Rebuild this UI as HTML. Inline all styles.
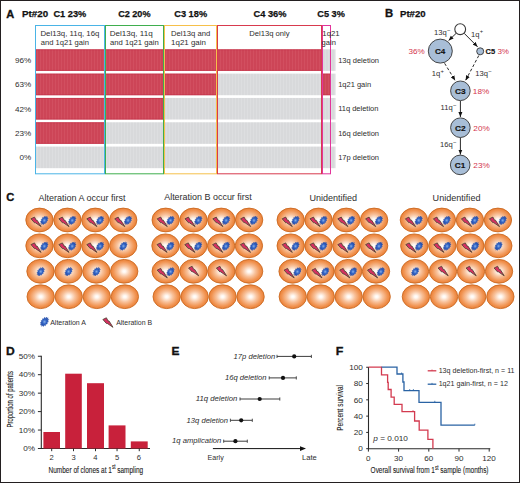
<!DOCTYPE html><html><head><meta charset="utf-8"><style>
html,body{margin:0;padding:0;background:#fff;}
svg{display:block;font-family:"Liberation Sans", sans-serif;}
</style></head><body>
<svg width="520" height="483" viewBox="0 0 520 483">
<defs>
<pattern id="pr" width="3" height="10" patternUnits="userSpaceOnUse"><rect width="3" height="10" fill="#cd4557"/><rect x="1" width="1" height="10" fill="#d24f60"/></pattern>
<pattern id="pg" width="3" height="10" patternUnits="userSpaceOnUse"><rect width="3" height="10" fill="#d8d9db"/><rect x="1" width="1" height="10" fill="#dddee0"/></pattern>
<radialGradient id="cell" cx="0.5" cy="0.5" r="0.5"><stop offset="0" stop-color="#ffffff"/><stop offset="0.12" stop-color="#fff7f0"/><stop offset="0.45" stop-color="#f8c29c"/><stop offset="0.8" stop-color="#f19452"/><stop offset="1" stop-color="#ea7f36"/></radialGradient>
<radialGradient id="blob" cx="0.5" cy="0.5" r="0.5"><stop offset="0" stop-color="#86aee8"/><stop offset="0.45" stop-color="#3466c6"/><stop offset="1" stop-color="#1d47a6"/></radialGradient>
<g id="bolt"><path d="M-5.1,-3.1 L-1.6,-4.8 L0.1,-1.6 L1.0,-1.7 L5.0,4.7 L-0.9,0.7 L-1.6,0.9 Z" fill="#d63062" stroke="#4e4232" stroke-width="0.85" stroke-linejoin="round"/></g>
<g id="blobg"><polygon points="2.52,1.97 1.24,2.04 0.83,3.54 -0.08,2.91 -1.05,4.30 -1.39,3.10 -2.69,4.07 -2.38,2.59 -3.71,2.91 -2.82,1.48 -3.89,1.09 -2.62,0.04 -3.17,-0.99 -1.82,-1.42 -1.73,-2.84 -0.60,-2.55 0.11,-4.04 0.76,-3.09 1.93,-4.31 1.94,-2.93 3.30,-3.60 2.67,-2.10 3.92,-2.06 2.80,-0.78 3.63,-0.05 2.28,0.71" fill="url(#blob)" stroke="#1f4aa8" stroke-width="0.4" stroke-linejoin="round"/></g>
<marker id="ah" viewBox="0 0 10 10" refX="10" refY="5" markerWidth="5.6" markerHeight="5.6" orient="auto"><path d="M0,1 L10,5 L0,9 Z" fill="#111"/></marker>
</defs>
<rect x="0.5" y="0.5" width="519" height="482" fill="#fff" stroke="#231f20" stroke-width="1"/>
<text x="6.22" y="17.5" fill="#111" style="font-size:10.6px;font-weight:bold;stroke:#111;stroke-width:0.3;" textLength="7.98" lengthAdjust="spacingAndGlyphs">A</text>
<text x="22.04" y="17.1" fill="#111" style="font-size:9.8px;font-weight:bold;stroke:#111;stroke-width:0.25;" textLength="26.06" lengthAdjust="spacingAndGlyphs">Pt#20</text>
<text x="53.43" y="17.1" fill="#111" style="font-size:9.8px;font-weight:bold;stroke:#111;stroke-width:0.25;" textLength="32.82" lengthAdjust="spacingAndGlyphs">C1 23%</text>
<text x="118.14" y="17.1" fill="#111" style="font-size:9.8px;font-weight:bold;stroke:#111;stroke-width:0.25;" textLength="32.42" lengthAdjust="spacingAndGlyphs">C2 20%</text>
<text x="174.23" y="17.1" fill="#111" style="font-size:9.8px;font-weight:bold;stroke:#111;stroke-width:0.25;" textLength="32.93" lengthAdjust="spacingAndGlyphs">C3 18%</text>
<text x="253.53" y="17.1" fill="#111" style="font-size:9.8px;font-weight:bold;stroke:#111;stroke-width:0.25;" textLength="32.93" lengthAdjust="spacingAndGlyphs">C4 36%</text>
<text x="317.33" y="17.1" fill="#111" style="font-size:9.8px;font-weight:bold;stroke:#111;stroke-width:0.25;" textLength="27.51" lengthAdjust="spacingAndGlyphs">C5 3%</text>
<rect x="35" y="49.30" width="70" height="21.6" fill="url(#pr)"/>
<rect x="35" y="49.30" width="70" height="1" fill="#c5304a" opacity="0.6"/>
<rect x="35" y="69.90" width="70" height="1" fill="#c5304a" opacity="0.6"/>
<rect x="105" y="49.30" width="59" height="21.6" fill="url(#pr)"/>
<rect x="105" y="49.30" width="59" height="1" fill="#c5304a" opacity="0.6"/>
<rect x="105" y="69.90" width="59" height="1" fill="#c5304a" opacity="0.6"/>
<rect x="164" y="49.30" width="53" height="21.6" fill="url(#pr)"/>
<rect x="164" y="49.30" width="53" height="1" fill="#c5304a" opacity="0.6"/>
<rect x="164" y="69.90" width="53" height="1" fill="#c5304a" opacity="0.6"/>
<rect x="217" y="49.30" width="105" height="21.6" fill="url(#pr)"/>
<rect x="217" y="49.30" width="105" height="1" fill="#c5304a" opacity="0.6"/>
<rect x="217" y="69.90" width="105" height="1" fill="#c5304a" opacity="0.6"/>
<rect x="322" y="49.30" width="9" height="21.6" fill="url(#pg)"/>
<rect x="331" y="49.30" width="4.5" height="21.6" fill="url(#pg)"/>
<rect x="35" y="73.62" width="70" height="21.6" fill="url(#pr)"/>
<rect x="35" y="73.62" width="70" height="1" fill="#c5304a" opacity="0.6"/>
<rect x="35" y="94.22" width="70" height="1" fill="#c5304a" opacity="0.6"/>
<rect x="105" y="73.62" width="59" height="21.6" fill="url(#pr)"/>
<rect x="105" y="73.62" width="59" height="1" fill="#c5304a" opacity="0.6"/>
<rect x="105" y="94.22" width="59" height="1" fill="#c5304a" opacity="0.6"/>
<rect x="164" y="73.62" width="53" height="21.6" fill="url(#pr)"/>
<rect x="164" y="73.62" width="53" height="1" fill="#c5304a" opacity="0.6"/>
<rect x="164" y="94.22" width="53" height="1" fill="#c5304a" opacity="0.6"/>
<rect x="217" y="73.62" width="105" height="21.6" fill="url(#pg)"/>
<rect x="322" y="73.62" width="9" height="21.6" fill="url(#pr)"/>
<rect x="322" y="73.62" width="9" height="1" fill="#c5304a" opacity="0.6"/>
<rect x="322" y="94.22" width="9" height="1" fill="#c5304a" opacity="0.6"/>
<rect x="331" y="73.62" width="4.5" height="21.6" fill="url(#pg)"/>
<rect x="35" y="97.94" width="70" height="21.6" fill="url(#pr)"/>
<rect x="35" y="97.94" width="70" height="1" fill="#c5304a" opacity="0.6"/>
<rect x="35" y="118.54" width="70" height="1" fill="#c5304a" opacity="0.6"/>
<rect x="105" y="97.94" width="59" height="21.6" fill="url(#pr)"/>
<rect x="105" y="97.94" width="59" height="1" fill="#c5304a" opacity="0.6"/>
<rect x="105" y="118.54" width="59" height="1" fill="#c5304a" opacity="0.6"/>
<rect x="164" y="97.94" width="53" height="21.6" fill="url(#pg)"/>
<rect x="217" y="97.94" width="105" height="21.6" fill="url(#pg)"/>
<rect x="322" y="97.94" width="9" height="21.6" fill="url(#pg)"/>
<rect x="331" y="97.94" width="4.5" height="21.6" fill="url(#pg)"/>
<rect x="35" y="122.26" width="70" height="21.6" fill="url(#pr)"/>
<rect x="35" y="122.26" width="70" height="1" fill="#c5304a" opacity="0.6"/>
<rect x="35" y="142.86" width="70" height="1" fill="#c5304a" opacity="0.6"/>
<rect x="105" y="122.26" width="59" height="21.6" fill="url(#pg)"/>
<rect x="164" y="122.26" width="53" height="21.6" fill="url(#pg)"/>
<rect x="217" y="122.26" width="105" height="21.6" fill="url(#pg)"/>
<rect x="322" y="122.26" width="9" height="21.6" fill="url(#pg)"/>
<rect x="331" y="122.26" width="4.5" height="21.6" fill="url(#pg)"/>
<rect x="35" y="146.58" width="70" height="21.6" fill="url(#pg)"/>
<rect x="105" y="146.58" width="59" height="21.6" fill="url(#pg)"/>
<rect x="164" y="146.58" width="53" height="21.6" fill="url(#pg)"/>
<rect x="217" y="146.58" width="105" height="21.6" fill="url(#pg)"/>
<rect x="322" y="146.58" width="9" height="21.6" fill="url(#pg)"/>
<rect x="331" y="146.58" width="4.5" height="21.6" fill="url(#pg)"/>
<rect x="35.5" y="25.5" width="69.0" height="148.3" fill="none" stroke="#4ab4e6" stroke-width="1"/>
<rect x="105.5" y="25.5" width="58.0" height="148.3" fill="none" stroke="#3fae4e" stroke-width="1"/>
<rect x="164.5" y="25.5" width="52.0" height="148.3" fill="none" stroke="#f6c04a" stroke-width="1"/>
<rect x="217.5" y="25.5" width="104.0" height="148.3" fill="none" stroke="#d83a4e" stroke-width="1"/>
<rect x="322.5" y="25.5" width="8.0" height="148.3" fill="none" stroke="#e2349a" stroke-width="1"/>
<text x="40.46" y="35.8" fill="#2e2e2e" style="font-size:7.7px;" textLength="58.94" lengthAdjust="spacingAndGlyphs">Del13q, 11q, 16q</text>
<text x="40.78" y="44.5" fill="#2e2e2e" style="font-size:7.7px;" textLength="48.23" lengthAdjust="spacingAndGlyphs">and 1q21 gain</text>
<text x="109.73" y="35.8" fill="#2e2e2e" style="font-size:7.7px;" textLength="42.98" lengthAdjust="spacingAndGlyphs">Del13q, 11q</text>
<text x="110.07" y="44.5" fill="#2e2e2e" style="font-size:7.7px;" textLength="48.64" lengthAdjust="spacingAndGlyphs">and 1q21 gain</text>
<text x="171.07" y="35.8" fill="#2e2e2e" style="font-size:7.7px;" textLength="39.21" lengthAdjust="spacingAndGlyphs">Del13q and</text>
<text x="171.11" y="44.5" fill="#2e2e2e" style="font-size:7.7px;" textLength="34.82" lengthAdjust="spacingAndGlyphs">1q21 gain</text>
<text x="249.17" y="35.8" fill="#2e2e2e" style="font-size:7.7px;" textLength="40.44" lengthAdjust="spacingAndGlyphs">Del13q only</text>
<text x="322.32" y="35.6" fill="#2e2e2e" style="font-size:7.7px;" textLength="17.27" lengthAdjust="spacingAndGlyphs">1q21</text>
<text x="321.58" y="44.6" fill="#2e2e2e" style="font-size:7.7px;" textLength="14.32" lengthAdjust="spacingAndGlyphs">gain</text>
<text x="14.98" y="63.0" fill="#2e2e2e" style="font-size:7.6px;" textLength="16.21" lengthAdjust="spacingAndGlyphs">96%</text>
<text x="338.14" y="62.6" fill="#2e2e2e" style="font-size:7.5px;" textLength="40.87" lengthAdjust="spacingAndGlyphs">13q deletion</text>
<text x="14.98" y="87.3" fill="#2e2e2e" style="font-size:7.6px;" textLength="16.21" lengthAdjust="spacingAndGlyphs">63%</text>
<text x="338.14" y="86.9" fill="#2e2e2e" style="font-size:7.5px;" textLength="32.95" lengthAdjust="spacingAndGlyphs">1q21 gain</text>
<text x="14.98" y="111.6" fill="#2e2e2e" style="font-size:7.6px;" textLength="16.21" lengthAdjust="spacingAndGlyphs">42%</text>
<text x="338.14" y="111.2" fill="#2e2e2e" style="font-size:7.5px;" textLength="40.31" lengthAdjust="spacingAndGlyphs">11q deletion</text>
<text x="14.98" y="135.9" fill="#2e2e2e" style="font-size:7.6px;" textLength="16.21" lengthAdjust="spacingAndGlyphs">23%</text>
<text x="338.14" y="135.5" fill="#2e2e2e" style="font-size:7.5px;" textLength="40.87" lengthAdjust="spacingAndGlyphs">16q deletion</text>
<text x="19.50" y="160.2" fill="#2e2e2e" style="font-size:7.6px;" textLength="11.71" lengthAdjust="spacingAndGlyphs">0%</text>
<text x="338.14" y="159.8" fill="#2e2e2e" style="font-size:7.5px;" textLength="40.87" lengthAdjust="spacingAndGlyphs">17p deletion</text>
<text x="385.04" y="17.3" fill="#111" style="font-size:10.4px;font-weight:bold;stroke:#111;stroke-width:0.3;" textLength="8.17" lengthAdjust="spacingAndGlyphs">B</text>
<text x="400.05" y="17.1" fill="#111" style="font-size:9.8px;font-weight:bold;stroke:#111;stroke-width:0.25;" textLength="25.54" lengthAdjust="spacingAndGlyphs">Pt#20</text>
<line x1="456.2" y1="33.3" x2="448.6" y2="40.6" stroke="#111" stroke-width="0.9" marker-end="url(#ah)"/>
<line x1="464.2" y1="33.3" x2="477.6" y2="46.8" stroke="#111" stroke-width="0.9" marker-end="url(#ah)"/>
<line x1="444.6" y1="63.3" x2="455.2" y2="80.6" stroke="#111" stroke-width="0.9" stroke-dasharray="3,2" marker-end="url(#ah)"/>
<line x1="478.8" y1="55.5" x2="465.6" y2="80.4" stroke="#111" stroke-width="0.9" stroke-dasharray="3,2" marker-end="url(#ah)"/>
<line x1="460.4" y1="100.8" x2="460.4" y2="117" stroke="#111" stroke-width="0.9" marker-end="url(#ah)"/>
<line x1="460.4" y1="137.6" x2="460.4" y2="154.6" stroke="#111" stroke-width="0.9" marker-end="url(#ah)"/>
<circle cx="460.2" cy="29.2" r="5.4" fill="#fff" stroke="#3a3a3a" stroke-width="1.1"/>
<circle cx="440.3" cy="51.1" r="12.0" fill="#a8bed7" stroke="#333" stroke-width="0.9"/>
<text x="434.98" y="53.9" fill="#111" style="font-size:7.9px;font-weight:bold;stroke:#111;stroke-width:0.15;" textLength="10.37" lengthAdjust="spacingAndGlyphs">C4</text>
<circle cx="480.2" cy="51.3" r="3.5" fill="#a8bed7" stroke="#333" stroke-width="0.9"/>
<circle cx="460.4" cy="90.8" r="9.8" fill="#a8bed7" stroke="#333" stroke-width="0.9"/>
<text x="455.07" y="93.6" fill="#111" style="font-size:7.9px;font-weight:bold;stroke:#111;stroke-width:0.15;" textLength="10.63" lengthAdjust="spacingAndGlyphs">C3</text>
<circle cx="460.4" cy="127.7" r="9.8" fill="#a8bed7" stroke="#333" stroke-width="0.9"/>
<text x="455.07" y="130.5" fill="#111" style="font-size:7.9px;font-weight:bold;stroke:#111;stroke-width:0.15;" textLength="10.68" lengthAdjust="spacingAndGlyphs">C2</text>
<circle cx="460.2" cy="164.9" r="9.8" fill="#a8bed7" stroke="#333" stroke-width="0.9"/>
<text x="454.87" y="167.7" fill="#111" style="font-size:7.9px;font-weight:bold;stroke:#111;stroke-width:0.15;" textLength="10.56" lengthAdjust="spacingAndGlyphs">C1</text>
<text x="408.50" y="53.5" fill="#d3344c" style="font-size:7.6px;" textLength="16.20" lengthAdjust="spacingAndGlyphs">36%</text>
<text x="485.50" y="53.5" fill="#111" style="font-size:7.8px;font-weight:bold;stroke:#111;stroke-width:0.15;" textLength="9.61" lengthAdjust="spacingAndGlyphs">C5</text>
<text x="497.40" y="53.5" fill="#d3344c" style="font-size:7.6px;" textLength="11.61" lengthAdjust="spacingAndGlyphs">3%</text>
<text x="472.88" y="93.5" fill="#d3344c" style="font-size:7.6px;" textLength="16.41" lengthAdjust="spacingAndGlyphs">18%</text>
<text x="473.39" y="130.6" fill="#d3344c" style="font-size:7.6px;" textLength="16.41" lengthAdjust="spacingAndGlyphs">20%</text>
<text x="473.39" y="167.9" fill="#d3344c" style="font-size:7.6px;" textLength="16.41" lengthAdjust="spacingAndGlyphs">23%</text>
<text x="434.0" y="35.0" fill="#2e2e2e" style="font-size:7.6px;">13q<tspan dx="0.3" dy="-3.1" style="font-size:5.8px;">−</tspan></text>
<text x="471.0" y="36.5" fill="#2e2e2e" style="font-size:7.6px;">1q<tspan dx="0.3" dy="-3.1" style="font-size:5.8px;">+</tspan></text>
<text x="431.8" y="75.8" fill="#2e2e2e" style="font-size:7.6px;">1q<tspan dx="0.3" dy="-3.1" style="font-size:5.8px;">+</tspan></text>
<text x="475.2" y="75.8" fill="#2e2e2e" style="font-size:7.6px;">13q<tspan dx="0.3" dy="-3.1" style="font-size:5.8px;">−</tspan></text>
<text x="440.6" y="109.8" fill="#2e2e2e" style="font-size:7.6px;">11q<tspan dx="0.3" dy="-3.1" style="font-size:5.8px;">−</tspan></text>
<text x="440.0" y="146.7" fill="#2e2e2e" style="font-size:7.6px;">16q<tspan dx="0.3" dy="-3.1" style="font-size:5.8px;">−</tspan></text>
<text x="6.25" y="201.1" fill="#111" style="font-size:10.6px;font-weight:bold;stroke:#111;stroke-width:0.3;" textLength="8.05" lengthAdjust="spacingAndGlyphs">C</text>
<text x="38.58" y="200.5" fill="#2e2e2e" style="font-size:8.8px;" textLength="86.90" lengthAdjust="spacingAndGlyphs">Alteration A occur first</text>
<text x="164.18" y="200.4" fill="#2e2e2e" style="font-size:8.8px;" textLength="87.60" lengthAdjust="spacingAndGlyphs">Alteration B occur first</text>
<text x="309.40" y="200.5" fill="#2e2e2e" style="font-size:8.8px;" textLength="47.68" lengthAdjust="spacingAndGlyphs">Unidentified</text>
<text x="432.60" y="200.5" fill="#2e2e2e" style="font-size:8.8px;" textLength="47.88" lengthAdjust="spacingAndGlyphs">Unidentified</text>
<ellipse cx="39.50" cy="220.0" rx="13.7" ry="11.9" fill="url(#cell)" stroke="#c9671e" stroke-width="0.85"/>
<use href="#bolt" x="36.10" y="221.90"/>
<use href="#blobg" x="44.30" y="220.40"/>
<ellipse cx="67.40" cy="220.0" rx="13.7" ry="11.9" fill="url(#cell)" stroke="#c9671e" stroke-width="0.85"/>
<use href="#bolt" x="64.00" y="221.90"/>
<use href="#blobg" x="72.20" y="220.40"/>
<ellipse cx="95.30" cy="220.0" rx="13.7" ry="11.9" fill="url(#cell)" stroke="#c9671e" stroke-width="0.85"/>
<use href="#bolt" x="91.90" y="221.90"/>
<use href="#blobg" x="100.10" y="220.40"/>
<ellipse cx="123.20" cy="220.0" rx="13.7" ry="11.9" fill="url(#cell)" stroke="#c9671e" stroke-width="0.85"/>
<use href="#bolt" x="119.80" y="221.90"/>
<use href="#blobg" x="128.00" y="220.40"/>
<ellipse cx="39.50" cy="245.8" rx="13.7" ry="11.9" fill="url(#cell)" stroke="#c9671e" stroke-width="0.85"/>
<use href="#bolt" x="36.10" y="247.70"/>
<use href="#blobg" x="44.30" y="246.20"/>
<ellipse cx="67.40" cy="245.8" rx="13.7" ry="11.9" fill="url(#cell)" stroke="#c9671e" stroke-width="0.85"/>
<use href="#bolt" x="64.00" y="247.70"/>
<use href="#blobg" x="72.20" y="246.20"/>
<ellipse cx="95.30" cy="245.8" rx="13.7" ry="11.9" fill="url(#cell)" stroke="#c9671e" stroke-width="0.85"/>
<use href="#bolt" x="91.90" y="247.70"/>
<use href="#blobg" x="100.10" y="246.20"/>
<ellipse cx="123.20" cy="245.8" rx="13.7" ry="11.9" fill="url(#cell)" stroke="#c9671e" stroke-width="0.85"/>
<use href="#blobg" x="123.40" y="246.10"/>
<ellipse cx="40.50" cy="271.3" rx="13.7" ry="11.9" fill="url(#cell)" stroke="#c9671e" stroke-width="0.85"/>
<use href="#blobg" x="40.70" y="271.60"/>
<ellipse cx="68.40" cy="271.3" rx="13.7" ry="11.9" fill="url(#cell)" stroke="#c9671e" stroke-width="0.85"/>
<use href="#blobg" x="68.60" y="271.60"/>
<ellipse cx="96.30" cy="271.3" rx="13.7" ry="11.9" fill="url(#cell)" stroke="#c9671e" stroke-width="0.85"/>
<use href="#blobg" x="96.50" y="271.60"/>
<ellipse cx="124.20" cy="271.3" rx="13.7" ry="11.9" fill="url(#cell)" stroke="#c9671e" stroke-width="0.85"/>
<ellipse cx="40.70" cy="296.7" rx="13.7" ry="11.9" fill="url(#cell)" stroke="#c9671e" stroke-width="0.85"/>
<ellipse cx="68.75" cy="296.7" rx="13.7" ry="11.9" fill="url(#cell)" stroke="#c9671e" stroke-width="0.85"/>
<ellipse cx="96.80" cy="296.7" rx="13.7" ry="11.9" fill="url(#cell)" stroke="#c9671e" stroke-width="0.85"/>
<ellipse cx="124.85" cy="296.7" rx="13.7" ry="11.9" fill="url(#cell)" stroke="#c9671e" stroke-width="0.85"/>
<ellipse cx="165.70" cy="220.0" rx="13.7" ry="11.9" fill="url(#cell)" stroke="#c9671e" stroke-width="0.85"/>
<use href="#bolt" x="162.30" y="221.90"/>
<use href="#blobg" x="170.50" y="220.40"/>
<ellipse cx="193.50" cy="220.0" rx="13.7" ry="11.9" fill="url(#cell)" stroke="#c9671e" stroke-width="0.85"/>
<use href="#bolt" x="190.10" y="221.90"/>
<use href="#blobg" x="198.30" y="220.40"/>
<ellipse cx="221.30" cy="220.0" rx="13.7" ry="11.9" fill="url(#cell)" stroke="#c9671e" stroke-width="0.85"/>
<use href="#bolt" x="217.90" y="221.90"/>
<use href="#blobg" x="226.10" y="220.40"/>
<ellipse cx="249.10" cy="220.0" rx="13.7" ry="11.9" fill="url(#cell)" stroke="#c9671e" stroke-width="0.85"/>
<use href="#bolt" x="245.70" y="221.90"/>
<use href="#blobg" x="253.90" y="220.40"/>
<ellipse cx="165.50" cy="245.8" rx="13.7" ry="11.9" fill="url(#cell)" stroke="#c9671e" stroke-width="0.85"/>
<use href="#bolt" x="162.10" y="247.70"/>
<use href="#blobg" x="170.30" y="246.20"/>
<ellipse cx="193.30" cy="245.8" rx="13.7" ry="11.9" fill="url(#cell)" stroke="#c9671e" stroke-width="0.85"/>
<use href="#bolt" x="189.90" y="247.70"/>
<use href="#blobg" x="198.10" y="246.20"/>
<ellipse cx="221.10" cy="245.8" rx="13.7" ry="11.9" fill="url(#cell)" stroke="#c9671e" stroke-width="0.85"/>
<use href="#bolt" x="217.70" y="247.70"/>
<use href="#blobg" x="225.90" y="246.20"/>
<ellipse cx="248.90" cy="245.8" rx="13.7" ry="11.9" fill="url(#cell)" stroke="#c9671e" stroke-width="0.85"/>
<use href="#bolt" x="245.50" y="247.70"/>
<use href="#blobg" x="253.70" y="246.20"/>
<ellipse cx="165.70" cy="271.3" rx="13.7" ry="11.9" fill="url(#cell)" stroke="#c9671e" stroke-width="0.85"/>
<use href="#bolt" x="162.30" y="273.20"/>
<use href="#blobg" x="170.50" y="271.70"/>
<ellipse cx="193.50" cy="271.3" rx="13.7" ry="11.9" fill="url(#cell)" stroke="#c9671e" stroke-width="0.85"/>
<use href="#bolt" x="193.70" y="271.10"/>
<ellipse cx="221.30" cy="271.3" rx="13.7" ry="11.9" fill="url(#cell)" stroke="#c9671e" stroke-width="0.85"/>
<use href="#bolt" x="221.50" y="271.10"/>
<ellipse cx="249.10" cy="271.3" rx="13.7" ry="11.9" fill="url(#cell)" stroke="#c9671e" stroke-width="0.85"/>
<ellipse cx="166.70" cy="296.7" rx="13.7" ry="11.9" fill="url(#cell)" stroke="#c9671e" stroke-width="0.85"/>
<ellipse cx="194.65" cy="296.7" rx="13.7" ry="11.9" fill="url(#cell)" stroke="#c9671e" stroke-width="0.85"/>
<ellipse cx="222.60" cy="296.7" rx="13.7" ry="11.9" fill="url(#cell)" stroke="#c9671e" stroke-width="0.85"/>
<ellipse cx="250.55" cy="296.7" rx="13.7" ry="11.9" fill="url(#cell)" stroke="#c9671e" stroke-width="0.85"/>
<ellipse cx="290.70" cy="220.0" rx="13.7" ry="11.9" fill="url(#cell)" stroke="#c9671e" stroke-width="0.85"/>
<use href="#bolt" x="287.30" y="221.90"/>
<use href="#blobg" x="295.50" y="220.40"/>
<ellipse cx="318.50" cy="220.0" rx="13.7" ry="11.9" fill="url(#cell)" stroke="#c9671e" stroke-width="0.85"/>
<use href="#bolt" x="315.10" y="221.90"/>
<use href="#blobg" x="323.30" y="220.40"/>
<ellipse cx="346.30" cy="220.0" rx="13.7" ry="11.9" fill="url(#cell)" stroke="#c9671e" stroke-width="0.85"/>
<use href="#bolt" x="342.90" y="221.90"/>
<use href="#blobg" x="351.10" y="220.40"/>
<ellipse cx="374.10" cy="220.0" rx="13.7" ry="11.9" fill="url(#cell)" stroke="#c9671e" stroke-width="0.85"/>
<use href="#bolt" x="370.70" y="221.90"/>
<use href="#blobg" x="378.90" y="220.40"/>
<ellipse cx="290.70" cy="245.8" rx="13.7" ry="11.9" fill="url(#cell)" stroke="#c9671e" stroke-width="0.85"/>
<use href="#bolt" x="287.30" y="247.70"/>
<use href="#blobg" x="295.50" y="246.20"/>
<ellipse cx="318.50" cy="245.8" rx="13.7" ry="11.9" fill="url(#cell)" stroke="#c9671e" stroke-width="0.85"/>
<use href="#bolt" x="315.10" y="247.70"/>
<use href="#blobg" x="323.30" y="246.20"/>
<ellipse cx="346.30" cy="245.8" rx="13.7" ry="11.9" fill="url(#cell)" stroke="#c9671e" stroke-width="0.85"/>
<use href="#bolt" x="342.90" y="247.70"/>
<use href="#blobg" x="351.10" y="246.20"/>
<ellipse cx="374.10" cy="245.8" rx="13.7" ry="11.9" fill="url(#cell)" stroke="#c9671e" stroke-width="0.85"/>
<use href="#bolt" x="370.70" y="247.70"/>
<use href="#blobg" x="378.90" y="246.20"/>
<ellipse cx="292.60" cy="271.3" rx="13.7" ry="11.9" fill="url(#cell)" stroke="#c9671e" stroke-width="0.85"/>
<use href="#bolt" x="289.20" y="273.20"/>
<use href="#blobg" x="297.40" y="271.70"/>
<ellipse cx="320.40" cy="271.3" rx="13.7" ry="11.9" fill="url(#cell)" stroke="#c9671e" stroke-width="0.85"/>
<use href="#bolt" x="317.00" y="273.20"/>
<use href="#blobg" x="325.20" y="271.70"/>
<ellipse cx="348.20" cy="271.3" rx="13.7" ry="11.9" fill="url(#cell)" stroke="#c9671e" stroke-width="0.85"/>
<use href="#bolt" x="344.80" y="273.20"/>
<use href="#blobg" x="353.00" y="271.70"/>
<ellipse cx="376.00" cy="271.3" rx="13.7" ry="11.9" fill="url(#cell)" stroke="#c9671e" stroke-width="0.85"/>
<use href="#bolt" x="372.60" y="273.20"/>
<use href="#blobg" x="380.80" y="271.70"/>
<ellipse cx="292.80" cy="296.7" rx="13.7" ry="11.9" fill="url(#cell)" stroke="#c9671e" stroke-width="0.85"/>
<ellipse cx="320.75" cy="296.7" rx="13.7" ry="11.9" fill="url(#cell)" stroke="#c9671e" stroke-width="0.85"/>
<ellipse cx="348.70" cy="296.7" rx="13.7" ry="11.9" fill="url(#cell)" stroke="#c9671e" stroke-width="0.85"/>
<ellipse cx="376.65" cy="296.7" rx="13.7" ry="11.9" fill="url(#cell)" stroke="#c9671e" stroke-width="0.85"/>
<ellipse cx="413.90" cy="220.0" rx="13.7" ry="11.9" fill="url(#cell)" stroke="#c9671e" stroke-width="0.85"/>
<use href="#bolt" x="410.50" y="221.90"/>
<use href="#blobg" x="418.70" y="220.40"/>
<ellipse cx="441.90" cy="220.0" rx="13.7" ry="11.9" fill="url(#cell)" stroke="#c9671e" stroke-width="0.85"/>
<use href="#bolt" x="438.50" y="221.90"/>
<use href="#blobg" x="446.70" y="220.40"/>
<ellipse cx="469.90" cy="220.0" rx="13.7" ry="11.9" fill="url(#cell)" stroke="#c9671e" stroke-width="0.85"/>
<use href="#bolt" x="466.50" y="221.90"/>
<use href="#blobg" x="474.70" y="220.40"/>
<ellipse cx="497.90" cy="220.0" rx="13.7" ry="11.9" fill="url(#cell)" stroke="#c9671e" stroke-width="0.85"/>
<use href="#bolt" x="494.50" y="221.90"/>
<use href="#blobg" x="502.70" y="220.40"/>
<ellipse cx="414.30" cy="245.8" rx="13.7" ry="11.9" fill="url(#cell)" stroke="#c9671e" stroke-width="0.85"/>
<use href="#bolt" x="410.90" y="247.70"/>
<use href="#blobg" x="419.10" y="246.20"/>
<ellipse cx="442.30" cy="245.8" rx="13.7" ry="11.9" fill="url(#cell)" stroke="#c9671e" stroke-width="0.85"/>
<use href="#bolt" x="438.90" y="247.70"/>
<use href="#blobg" x="447.10" y="246.20"/>
<ellipse cx="470.30" cy="245.8" rx="13.7" ry="11.9" fill="url(#cell)" stroke="#c9671e" stroke-width="0.85"/>
<use href="#bolt" x="466.90" y="247.70"/>
<use href="#blobg" x="475.10" y="246.20"/>
<ellipse cx="498.30" cy="245.8" rx="13.7" ry="11.9" fill="url(#cell)" stroke="#c9671e" stroke-width="0.85"/>
<use href="#blobg" x="498.50" y="246.10"/>
<ellipse cx="415.00" cy="271.3" rx="13.7" ry="11.9" fill="url(#cell)" stroke="#c9671e" stroke-width="0.85"/>
<use href="#blobg" x="415.20" y="271.60"/>
<ellipse cx="443.00" cy="271.3" rx="13.7" ry="11.9" fill="url(#cell)" stroke="#c9671e" stroke-width="0.85"/>
<use href="#bolt" x="443.20" y="271.10"/>
<ellipse cx="471.00" cy="271.3" rx="13.7" ry="11.9" fill="url(#cell)" stroke="#c9671e" stroke-width="0.85"/>
<use href="#bolt" x="471.20" y="271.10"/>
<ellipse cx="499.00" cy="271.3" rx="13.7" ry="11.9" fill="url(#cell)" stroke="#c9671e" stroke-width="0.85"/>
<use href="#bolt" x="499.20" y="271.10"/>
<ellipse cx="415.90" cy="296.7" rx="13.7" ry="11.9" fill="url(#cell)" stroke="#c9671e" stroke-width="0.85"/>
<ellipse cx="444.05" cy="296.7" rx="13.7" ry="11.9" fill="url(#cell)" stroke="#c9671e" stroke-width="0.85"/>
<ellipse cx="472.20" cy="296.7" rx="13.7" ry="11.9" fill="url(#cell)" stroke="#c9671e" stroke-width="0.85"/>
<ellipse cx="500.35" cy="296.7" rx="13.7" ry="11.9" fill="url(#cell)" stroke="#c9671e" stroke-width="0.85"/>
<g transform="translate(44.5,321.8) scale(1.1)"><use href="#blobg"/></g>
<text x="50.18" y="325.2" fill="#2e2e2e" style="font-size:7.0px;" textLength="35.83" lengthAdjust="spacingAndGlyphs">Alteration A</text>
<use href="#bolt" x="108.0" y="322.6"/>
<text x="116.18" y="325.3" fill="#2e2e2e" style="font-size:7.0px;" textLength="35.88" lengthAdjust="spacingAndGlyphs">Alteration B</text>
<text x="5.98" y="354.9" fill="#111" style="font-size:10.8px;font-weight:bold;stroke:#111;stroke-width:0.3;" textLength="8.73" lengthAdjust="spacingAndGlyphs">D</text>
<line x1="41.3" y1="355.8" x2="41.3" y2="449" stroke="#2a2a2a" stroke-width="1.1"/>
<line x1="38" y1="448.5" x2="150" y2="448.5" stroke="#2a2a2a" stroke-width="1.2"/>
<line x1="37.9" y1="448.50" x2="41.3" y2="448.50" stroke="#2a2a2a" stroke-width="1"/>
<text x="23.34" y="451.2" fill="#2e2e2e" style="font-size:7.4px;" textLength="11.77" lengthAdjust="spacingAndGlyphs">0%</text>
<line x1="37.9" y1="430.05" x2="41.3" y2="430.05" stroke="#2a2a2a" stroke-width="1"/>
<text x="18.80" y="432.75" fill="#2e2e2e" style="font-size:7.4px;" textLength="16.29" lengthAdjust="spacingAndGlyphs">10%</text>
<line x1="37.9" y1="411.60" x2="41.3" y2="411.60" stroke="#2a2a2a" stroke-width="1"/>
<text x="18.80" y="414.3" fill="#2e2e2e" style="font-size:7.4px;" textLength="16.29" lengthAdjust="spacingAndGlyphs">20%</text>
<line x1="37.9" y1="393.15" x2="41.3" y2="393.15" stroke="#2a2a2a" stroke-width="1"/>
<text x="18.80" y="395.85" fill="#2e2e2e" style="font-size:7.4px;" textLength="16.29" lengthAdjust="spacingAndGlyphs">30%</text>
<line x1="37.9" y1="374.70" x2="41.3" y2="374.70" stroke="#2a2a2a" stroke-width="1"/>
<text x="18.80" y="377.4" fill="#2e2e2e" style="font-size:7.4px;" textLength="16.29" lengthAdjust="spacingAndGlyphs">40%</text>
<line x1="37.9" y1="356.25" x2="41.3" y2="356.25" stroke="#2a2a2a" stroke-width="1"/>
<text x="18.80" y="358.95" fill="#2e2e2e" style="font-size:7.4px;" textLength="16.29" lengthAdjust="spacingAndGlyphs">50%</text>
<rect x="43.4" y="432.0" width="16.6" height="16.5" fill="#c8213b"/>
<line x1="51.70" y1="448.5" x2="51.70" y2="451.2" stroke="#2a2a2a" stroke-width="1"/>
<text x="49.49" y="459.7" fill="#2e2e2e" style="font-size:7.6px;" textLength="4.23" lengthAdjust="spacingAndGlyphs">2</text>
<rect x="65.2" y="373.7" width="16.6" height="74.8" fill="#c8213b"/>
<line x1="73.50" y1="448.5" x2="73.50" y2="451.2" stroke="#2a2a2a" stroke-width="1"/>
<text x="71.41" y="459.7" fill="#2e2e2e" style="font-size:7.6px;" textLength="4.23" lengthAdjust="spacingAndGlyphs">3</text>
<rect x="87" y="383.2" width="17.0" height="65.3" fill="#c8213b"/>
<line x1="95.50" y1="448.5" x2="95.50" y2="451.2" stroke="#2a2a2a" stroke-width="1"/>
<text x="93.31" y="459.7" fill="#2e2e2e" style="font-size:7.6px;" textLength="4.23" lengthAdjust="spacingAndGlyphs">4</text>
<rect x="108.6" y="425.4" width="16.9" height="23.1" fill="#c8213b"/>
<line x1="117.05" y1="448.5" x2="117.05" y2="451.2" stroke="#2a2a2a" stroke-width="1"/>
<text x="115.09" y="459.7" fill="#2e2e2e" style="font-size:7.6px;" textLength="4.23" lengthAdjust="spacingAndGlyphs">5</text>
<rect x="130.8" y="441.4" width="16.9" height="7.1" fill="#c8213b"/>
<line x1="139.25" y1="448.5" x2="139.25" y2="451.2" stroke="#2a2a2a" stroke-width="1"/>
<text x="136.86" y="459.7" fill="#2e2e2e" style="font-size:7.6px;" textLength="4.23" lengthAdjust="spacingAndGlyphs">6</text>
<text x="0" y="0" fill="#222" style="font-size:9.2px;stroke:#222;stroke-width:0.12;" transform="translate(48.6,473) scale(0.705,1)">Number of clones at 1<tspan dy="-3.6" style="font-size:6.6px;">st</tspan><tspan dy="3.6"> sampling</tspan></text>
<text x="0" y="0" fill="#222" text-anchor="middle" style="font-size:8.8px;stroke:#222;stroke-width:0.12;" transform="translate(12.6,399.3) rotate(-90) scale(0.675,1)">Proportion of patients</text>
<text x="171.49" y="354.5" fill="#111" style="font-size:10.4px;font-weight:bold;stroke:#111;stroke-width:0.3;" textLength="7.98" lengthAdjust="spacingAndGlyphs">E</text>
<text x="233.61" y="358.5" fill="#2e2e2e" style="font-size:7.6px;font-style:italic;" textLength="41.55" lengthAdjust="spacingAndGlyphs">17p deletion</text>
<line x1="277" y1="356.4" x2="311.4" y2="356.4" stroke="#3c3c3c" stroke-width="1.0"/>
<line x1="277" y1="354.79999999999995" x2="277" y2="358.0" stroke="#3c3c3c" stroke-width="0.9"/>
<line x1="311.4" y1="354.79999999999995" x2="311.4" y2="358.0" stroke="#3c3c3c" stroke-width="0.9"/>
<circle cx="294.2" cy="356.4" r="2.1" fill="#111"/>
<text x="225.01" y="380.0" fill="#2e2e2e" style="font-size:7.6px;font-style:italic;" textLength="41.55" lengthAdjust="spacingAndGlyphs">16q deletion</text>
<line x1="269.2" y1="377.9" x2="296.3" y2="377.9" stroke="#3c3c3c" stroke-width="1.0"/>
<line x1="269.2" y1="376.29999999999995" x2="269.2" y2="379.5" stroke="#3c3c3c" stroke-width="0.9"/>
<line x1="296.3" y1="376.29999999999995" x2="296.3" y2="379.5" stroke="#3c3c3c" stroke-width="0.9"/>
<circle cx="283.0" cy="377.9" r="2.1" fill="#111"/>
<text x="195.81" y="400.6" fill="#2e2e2e" style="font-size:7.6px;font-style:italic;" textLength="41.44" lengthAdjust="spacingAndGlyphs">11q deletion</text>
<line x1="240" y1="399.0" x2="279.8" y2="399.0" stroke="#3c3c3c" stroke-width="1.0"/>
<line x1="240" y1="397.4" x2="240" y2="400.6" stroke="#3c3c3c" stroke-width="0.9"/>
<line x1="279.8" y1="397.4" x2="279.8" y2="400.6" stroke="#3c3c3c" stroke-width="0.9"/>
<circle cx="259.7" cy="399.0" r="2.1" fill="#111"/>
<text x="186.61" y="422.5" fill="#2e2e2e" style="font-size:7.6px;font-style:italic;" textLength="41.45" lengthAdjust="spacingAndGlyphs">13q deletion</text>
<line x1="230.4" y1="420.3" x2="252.3" y2="420.3" stroke="#3c3c3c" stroke-width="1.0"/>
<line x1="230.4" y1="418.7" x2="230.4" y2="421.90000000000003" stroke="#3c3c3c" stroke-width="0.9"/>
<line x1="252.3" y1="418.7" x2="252.3" y2="421.90000000000003" stroke="#3c3c3c" stroke-width="0.9"/>
<circle cx="241.2" cy="420.3" r="2.1" fill="#111"/>
<text x="172.11" y="443.0" fill="#2e2e2e" style="font-size:7.6px;font-style:italic;" textLength="49.24" lengthAdjust="spacingAndGlyphs">1q amplication</text>
<line x1="223.7" y1="441.2" x2="247.3" y2="441.2" stroke="#3c3c3c" stroke-width="1.0"/>
<line x1="223.7" y1="439.59999999999997" x2="223.7" y2="442.8" stroke="#3c3c3c" stroke-width="0.9"/>
<line x1="247.3" y1="439.59999999999997" x2="247.3" y2="442.8" stroke="#3c3c3c" stroke-width="0.9"/>
<circle cx="235.4" cy="441.2" r="2.1" fill="#111"/>
<line x1="212.9" y1="448.6" x2="301" y2="448.6" stroke="#111" stroke-width="1"/>
<path d="M300,446.2 L306,448.6 L300,451 Z" fill="#111"/>
<text x="207.51" y="460.4" fill="#2e2e2e" style="font-size:7.6px;" textLength="16.21" lengthAdjust="spacingAndGlyphs">Early</text>
<text x="302.07" y="460.3" fill="#2e2e2e" style="font-size:7.6px;" textLength="14.76" lengthAdjust="spacingAndGlyphs">Late</text>
<text x="335.86" y="355.0" fill="#111" style="font-size:10.4px;font-weight:bold;stroke:#111;stroke-width:0.3;" textLength="7.58" lengthAdjust="spacingAndGlyphs">F</text>
<line x1="368.5" y1="367" x2="368.5" y2="449.2" stroke="#2a2a2a" stroke-width="1.1"/>
<line x1="368" y1="448.7" x2="490.3" y2="448.7" stroke="#2a2a2a" stroke-width="1.1"/>
<line x1="366.2" y1="448.70" x2="368.5" y2="448.70" stroke="#2a2a2a" stroke-width="1"/>
<text x="358.33" y="451.4" fill="#2e2e2e" style="font-size:7.5px;" textLength="4.59" lengthAdjust="spacingAndGlyphs">0</text>
<line x1="366.2" y1="432.41" x2="368.5" y2="432.41" stroke="#2a2a2a" stroke-width="1"/>
<text x="353.75" y="435.11" fill="#2e2e2e" style="font-size:7.5px;" textLength="9.18" lengthAdjust="spacingAndGlyphs">20</text>
<line x1="366.2" y1="416.12" x2="368.5" y2="416.12" stroke="#2a2a2a" stroke-width="1"/>
<text x="353.75" y="418.82" fill="#2e2e2e" style="font-size:7.5px;" textLength="9.18" lengthAdjust="spacingAndGlyphs">40</text>
<line x1="366.2" y1="399.83" x2="368.5" y2="399.83" stroke="#2a2a2a" stroke-width="1"/>
<text x="353.75" y="402.53" fill="#2e2e2e" style="font-size:7.5px;" textLength="9.18" lengthAdjust="spacingAndGlyphs">60</text>
<line x1="366.2" y1="383.54" x2="368.5" y2="383.54" stroke="#2a2a2a" stroke-width="1"/>
<text x="353.75" y="386.24" fill="#2e2e2e" style="font-size:7.5px;" textLength="9.18" lengthAdjust="spacingAndGlyphs">80</text>
<line x1="366.2" y1="367.25" x2="368.5" y2="367.25" stroke="#2a2a2a" stroke-width="1"/>
<text x="349.15" y="369.95" fill="#2e2e2e" style="font-size:7.5px;" textLength="13.77" lengthAdjust="spacingAndGlyphs">100</text>
<line x1="368.40" y1="448.7" x2="368.40" y2="451.6" stroke="#2a2a2a" stroke-width="1"/>
<text x="366.14" y="460.5" fill="#2e2e2e" style="font-size:7.5px;" textLength="4.50" lengthAdjust="spacingAndGlyphs">0</text>
<line x1="398.60" y1="448.7" x2="398.60" y2="451.6" stroke="#2a2a2a" stroke-width="1"/>
<text x="394.10" y="460.5" fill="#2e2e2e" style="font-size:7.5px;" textLength="9.01" lengthAdjust="spacingAndGlyphs">30</text>
<line x1="428.80" y1="448.7" x2="428.80" y2="451.6" stroke="#2a2a2a" stroke-width="1"/>
<text x="424.25" y="460.5" fill="#2e2e2e" style="font-size:7.5px;" textLength="9.01" lengthAdjust="spacingAndGlyphs">60</text>
<line x1="459.00" y1="448.7" x2="459.00" y2="451.6" stroke="#2a2a2a" stroke-width="1"/>
<text x="454.46" y="460.5" fill="#2e2e2e" style="font-size:7.5px;" textLength="9.01" lengthAdjust="spacingAndGlyphs">90</text>
<line x1="489.20" y1="448.7" x2="489.20" y2="451.6" stroke="#2a2a2a" stroke-width="1"/>
<text x="482.29" y="460.5" fill="#2e2e2e" style="font-size:7.5px;" textLength="13.51" lengthAdjust="spacingAndGlyphs">120</text>
<polyline points="368.5,367.2 381.5,367.2 381.5,374.8 387.6,374.8 387.6,382.3 388.2,382.3 388.2,389.5 391.1,389.5 391.1,397.1 394.2,397.1 394.2,404.4 402.0,404.4 402.0,411.6 414.6,411.6 414.6,421.0 419.2,421.0 419.2,430.2 427.9,430.2 427.9,439.3 432.9,439.3 432.9,448.7" fill="none" stroke="#d33a4f" stroke-width="1.3"/>
<line x1="413" y1="410.2" x2="413" y2="411.6" stroke="#d33a4f" stroke-width="0.8"/>
<polyline points="381.5,367.2 397.0,367.2 397.0,374.0 402.9,374.0 402.9,382.0 404.0,382.0 404.0,390.6 419.0,390.6 419.0,402.3 441.0,402.3 441.0,425.2 474.8,425.2" fill="none" stroke="#2a63a4" stroke-width="1.3"/>
<line x1="401.6" y1="372.5" x2="401.6" y2="374.0" stroke="#2a63a4" stroke-width="0.8"/>
<line x1="409.7" y1="389.1" x2="409.7" y2="390.6" stroke="#2a63a4" stroke-width="0.8"/>
<line x1="413.4" y1="389.1" x2="413.4" y2="390.6" stroke="#2a63a4" stroke-width="0.8"/>
<line x1="434.8" y1="400.8" x2="434.8" y2="402.3" stroke="#2a63a4" stroke-width="0.8"/>
<line x1="474.8" y1="423.7" x2="474.8" y2="425.2" stroke="#2a63a4" stroke-width="0.8"/>
<line x1="427.7" y1="370.8" x2="436.3" y2="370.8" stroke="#d33a4f" stroke-width="1.3"/>
<line x1="432" y1="369.5" x2="432" y2="370.8" stroke="#d33a4f" stroke-width="0.8"/>
<text x="438.67" y="373.3" fill="#2e2e2e" style="font-size:7.1px;" textLength="75.87" lengthAdjust="spacingAndGlyphs">13q deletion-first, n = 11</text>
<line x1="427.7" y1="384.2" x2="436.3" y2="384.2" stroke="#2a63a4" stroke-width="1.3"/>
<line x1="432" y1="382.9" x2="432" y2="384.2" stroke="#2a63a4" stroke-width="0.8"/>
<text x="438.67" y="386.2" fill="#2e2e2e" style="font-size:7.1px;" textLength="69.20" lengthAdjust="spacingAndGlyphs">1q21 gain-first, n = 12</text>
<text x="373.3" y="440.8" fill="#2e2e2e" style="font-size:8.1px;" textLength="34.6" lengthAdjust="spacingAndGlyphs"><tspan style="font-style:italic;">p</tspan> = 0.010</text>
<text x="0" y="0" fill="#222" style="font-size:9.2px;stroke:#222;stroke-width:0.12;" transform="translate(370.6,473.2) scale(0.705,1)">Overall survival from 1<tspan dy="-3.6" style="font-size:6.6px;">st</tspan><tspan dy="3.6"> sample (months)</tspan></text>
<text x="0" y="0" fill="#222" text-anchor="middle" style="font-size:8.8px;stroke:#222;stroke-width:0.12;" transform="translate(342.8,407.9) rotate(-90) scale(0.73,1)">Percent survival</text>
</svg></body></html>
